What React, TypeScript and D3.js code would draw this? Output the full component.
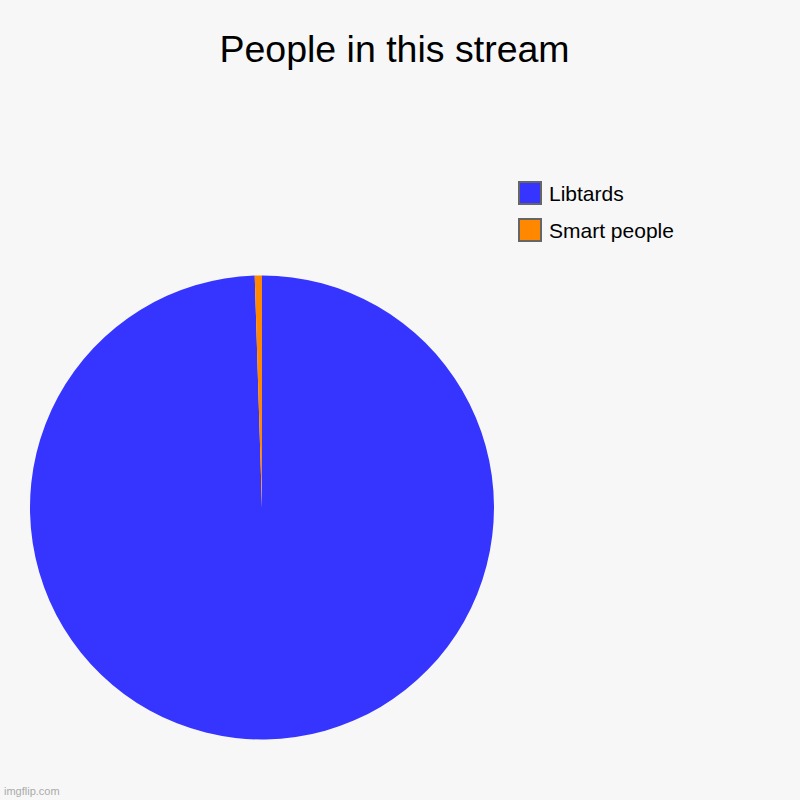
import * as d3 from 'd3'
import { useEffect, useRef } from 'react'

const title = 'People in this stream'
const categories = ['Libtards', 'Smart people']
const values = [99.5, 0.5]
const colors = ['#3535ff', '#ff8800']

export default function App() {
    const svgRef = useRef<SVGSVGElement>(null)
    const width = 800
    const height = 800

    useEffect(() => {
        if (!svgRef.current) return
        const svg = d3.select(svgRef.current)
        svg.selectAll('*').remove()

        svg.append('rect')
            .attr('width', width)
            .attr('height', height)
            .attr('fill', '#f7f7f7')

        // Title
        svg.append('text')
            .attr('x', 394.5)
            .attr('y', 62)
            .attr('text-anchor', 'middle')
            .style('font-family', 'Liberation Sans, Arial, sans-serif')
            .style('font-size', '37.5px')
            .attr('fill', '#000')
            .text(title)

        // Pie
        const data = categories.map((name, i) => ({ name, value: values[i] }))
        const pie = d3
            .pie<{ name: string; value: number }>()
            .value((d) => d.value)
            .sort(null)
        const arc = d3
            .arc<d3.PieArcDatum<{ name: string; value: number }>>()
            .innerRadius(0)
            .outerRadius(232)

        const color = d3.scaleOrdinal<string, string>().domain(categories).range(colors)

        const g = svg.append('g').attr('transform', 'translate(262,507.5)')
        g.selectAll('path')
            .data(pie(data))
            .enter()
            .append('path')
            .attr('d', arc)
            .attr('fill', (d) => color(d.data.name))

        // Legend
        const legend = svg.append('g').attr('transform', 'translate(519,182)')
        const row = legend
            .selectAll('g')
            .data(categories)
            .enter()
            .append('g')
            .attr('transform', (_, i) => `translate(0,${i * 37})`)
        row.append('rect')
            .attr('width', 22)
            .attr('height', 22)
            .attr('fill', (d) => color(d))
            .attr('stroke', '#666')
            .attr('stroke-width', 2)
        row.append('text')
            .attr('x', 30)
            .attr('y', 18.5)
            .style('font-family', 'Liberation Sans, Arial, sans-serif')
            .style('font-size', '21px')
            .attr('fill', '#000')
            .text((d) => d)

        // Watermark
        svg.append('text')
            .attr('x', 4)
            .attr('y', 795)
            .style('font-family', 'Liberation Sans, Arial, sans-serif')
            .style('font-size', '11px')
            .attr('fill', '#aaa')
            .text('imgflip.com')
    }, [])

    return (
        <svg
            ref={svgRef}
            width={width}
            height={height}
            style={{ position: 'absolute', left: 0, top: 0 }}
        />
    )
}
